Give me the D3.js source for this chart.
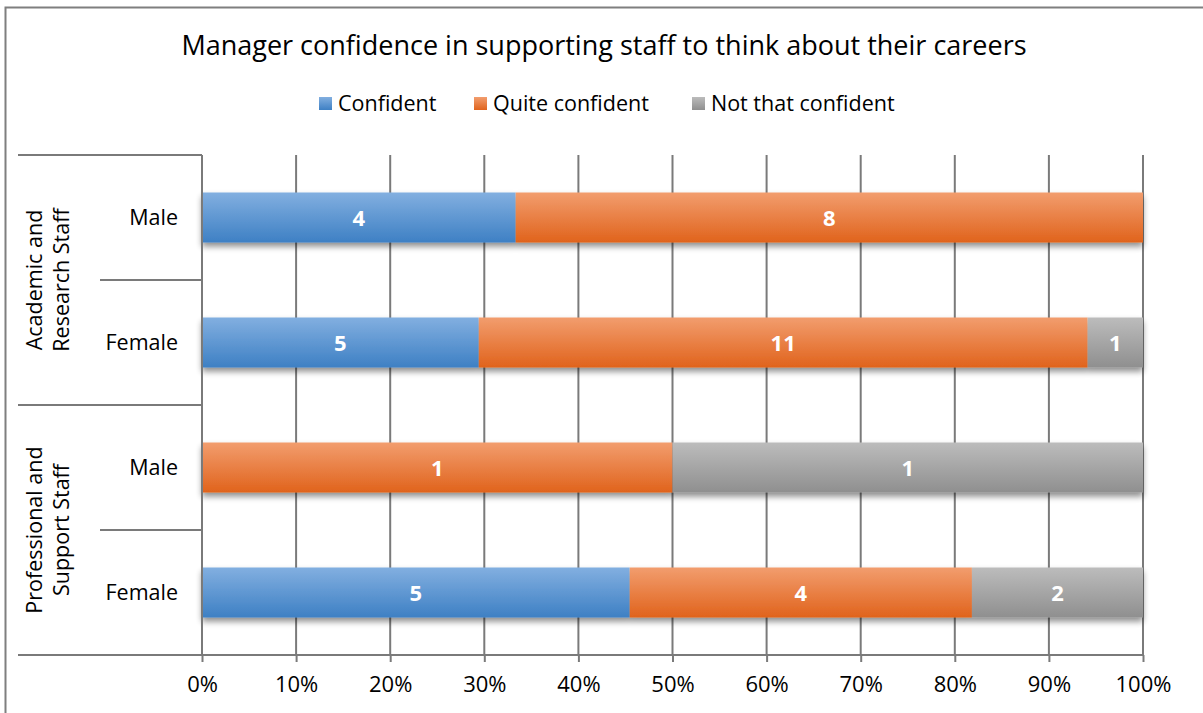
<!DOCTYPE html>
<html>
<head>
<meta charset="utf-8">
<script src="https://cdn.jsdelivr.net/npm/d3@7"></script>
<style>
  html, body { margin: 0; padding: 0; background: #fff; }
  svg { display: block; font-family: "Open Sans", "DejaVu Sans", sans-serif; }
</style>
</head>
<body>
<svg id="chart" width="1203" height="713"></svg>
<script>
// Response categories (stack order, left to right)
const seriesNames = ["Confident", "Quite confident", "Not that confident"];

// Rows, top to bottom: staff group + gender
const groups = ["Academic and Research Staff", "Professional and Support Staff"];
const groupLines = [["Academic and", "Research Staff"], ["Professional and", "Support Staff"]];
const genders = ["Male", "Female"];

// Respondent counts per row, one array per response category
const confident      = [4, 5, 0, 5];
const quiteConfident = [8, 11, 1, 4];
const notConfident   = [0, 1, 1, 2];

const tickValues = [0, 0.1, 0.2, 0.3, 0.4, 0.5, 0.6, 0.7, 0.8, 0.9, 1.0];

const rows = [];
groups.forEach((g, gi) => genders.forEach((s, si) => {
  const i = gi * 2 + si;
  rows.push({
    key: g + "|" + s, group: g, gender: s,
    "Confident": confident[i],
    "Quite confident": quiteConfident[i],
    "Not that confident": notConfident[i]
  });
}));

const svg = d3.select("#chart");
const W = 1203, H = 713;
const FS = 21.5;

// chart frame
svg.append("rect")
  .attr("x", 5.5).attr("y", 7.5).attr("width", W + 10).attr("height", H + 10)
  .attr("fill", "#fff").attr("stroke", "#7f7f7f").attr("stroke-width", 2);

const plot = { left: 202, right: 1143, top: 155, bottom: 655 };

const x = d3.scaleLinear().domain([0, 1]).range([plot.left, plot.right]);
const y = d3.scaleBand().domain(rows.map(r => r.key))
  .range([plot.top, plot.bottom]).paddingInner(0.6).paddingOuter(0.3);
const band = d3.scaleBand().domain(rows.map(r => r.key)).range([plot.top, plot.bottom]);

const colors = {
  "Confident": ["#82afe0", "#3e80c4"],
  "Quite confident": ["#f29d6e", "#e0631c"],
  "Not that confident": ["#bcbcbc", "#8f8f8f"]
};

const defs = svg.append("defs");
seriesNames.forEach((k, i) => {
  const lg = defs.append("linearGradient").attr("id", "grad" + i)
    .attr("x1", 0).attr("y1", 0).attr("x2", 0).attr("y2", 1);
  lg.append("stop").attr("offset", "0%").attr("stop-color", colors[k][0]);
  lg.append("stop").attr("offset", "100%").attr("stop-color", colors[k][1]);
});
const sh = defs.append("filter").attr("id", "shadow")
  .attr("x", "-5%").attr("y", "-20%").attr("width", "110%").attr("height", "160%");
sh.append("feGaussianBlur").attr("in", "SourceAlpha").attr("stdDeviation", 3).attr("result", "b");
sh.append("feOffset").attr("in", "b").attr("dx", 0).attr("dy", 4).attr("result", "o");
sh.append("feComponentTransfer").attr("in", "o").attr("result", "s")
  .append("feFuncA").attr("type", "linear").attr("slope", 0.45);
const m = sh.append("feMerge");
m.append("feMergeNode").attr("in", "s");
m.append("feMergeNode").attr("in", "SourceGraphic");

// title
svg.append("text").attr("x", 604).attr("y", 55).attr("text-anchor", "middle")
  .attr("font-size", 27).attr("fill", "#000")
  .text("Manager confidence in supporting staff to think about their careers");

// legend
const legendX = [319, 474, 692];
const leg = svg.append("g");
seriesNames.forEach((k, i) => {
  leg.append("rect").attr("x", legendX[i]).attr("y", 97).attr("width", 13).attr("height", 13)
    .attr("fill", "url(#grad" + i + ")");
  leg.append("text").attr("x", legendX[i] + 19).attr("y", 111).attr("font-size", FS)
    .attr("fill", "#000").text(k);
});

// vertical gridlines
const gridColor = "#7a7a7a";
svg.append("g").selectAll("line").data(tickValues.slice(1)).join("line")
  .attr("x1", d => x(d)).attr("x2", d => x(d))
  .attr("y1", plot.top).attr("y2", plot.bottom)
  .attr("stroke", gridColor).attr("stroke-width", 2);

// bars
const stack = d3.stack().keys(seriesNames).offset(d3.stackOffsetExpand);
const stacked = stack(rows);
const barG = svg.append("g").attr("filter", "url(#shadow)");
stacked.forEach((layer, i) => {
  barG.append("g").selectAll("rect").data(layer.filter(d => d[1] - d[0] > 0)).join("rect")
    .attr("x", d => x(d[0])).attr("width", d => x(d[1]) - x(d[0]))
    .attr("y", d => y(d.data.key)).attr("height", y.bandwidth())
    .attr("fill", "url(#grad" + i + ")");
});
// value labels
stacked.forEach((layer, i) => {
  svg.append("g").selectAll("text").data(layer.filter(d => d[1] - d[0] > 0)).join("text")
    .attr("x", d => (x(d[0]) + x(d[1])) / 2)
    .attr("y", d => y(d.data.key) + y.bandwidth() / 2 + 8)
    .attr("text-anchor", "middle").attr("font-size", 22).attr("font-weight", "bold")
    .attr("fill", "#fff").text(d => d.data[layer.key]);
});

// bottom axis
const xAxis = d3.axisBottom(x).tickValues(tickValues).tickFormat(d3.format(".0%"))
  .tickSize(7).tickPadding(14);
const ax = svg.append("g").attr("transform", `translate(0,${plot.bottom})`).call(xAxis);
ax.select(".domain").attr("stroke", gridColor).attr("stroke-width", 2)
  .attr("d", `M${plot.left},0H${plot.right}`);
ax.selectAll(".tick line").attr("stroke", gridColor).attr("stroke-width", 2);
ax.selectAll(".tick text").attr("font-size", 22).attr("fill", "#000")
  .attr("font-family", "'Open Sans', sans-serif");

// left category axis
const la = svg.append("g");
la.append("line").attr("x1", plot.left).attr("x2", plot.left)
  .attr("y1", plot.top).attr("y2", plot.bottom).attr("stroke", gridColor).attr("stroke-width", 2);
rows.forEach((r, i) => {
  const top = band(r.key);
  const isGroupStart = r.gender === genders[0];
  la.append("line").attr("x1", isGroupStart ? 18 : 100).attr("x2", plot.left)
    .attr("y1", top).attr("y2", top).attr("stroke", gridColor).attr("stroke-width", 2);
  la.append("text").attr("x", 178).attr("y", top + band.bandwidth() / 2 + 7)
    .attr("text-anchor", "end").attr("font-size", FS).attr("fill", "#000").text(r.gender);
});
la.append("line").attr("x1", 18).attr("x2", plot.left)
  .attr("y1", plot.bottom).attr("y2", plot.bottom).attr("stroke", gridColor).attr("stroke-width", 2);

groups.forEach((g, gi) => {
  const cy = band(g + "|" + genders[0]) + band.bandwidth();
  const t = la.append("text").attr("transform", `translate(48,${cy}) rotate(-90)`)
    .attr("text-anchor", "middle").attr("font-size", FS).attr("fill", "#000");
  groupLines[gi].forEach((line, li) => {
    t.append("tspan").attr("x", 0).attr("y", li === 0 ? -6 : 21).text(line);
  });
});
</script>
</body>
</html>
